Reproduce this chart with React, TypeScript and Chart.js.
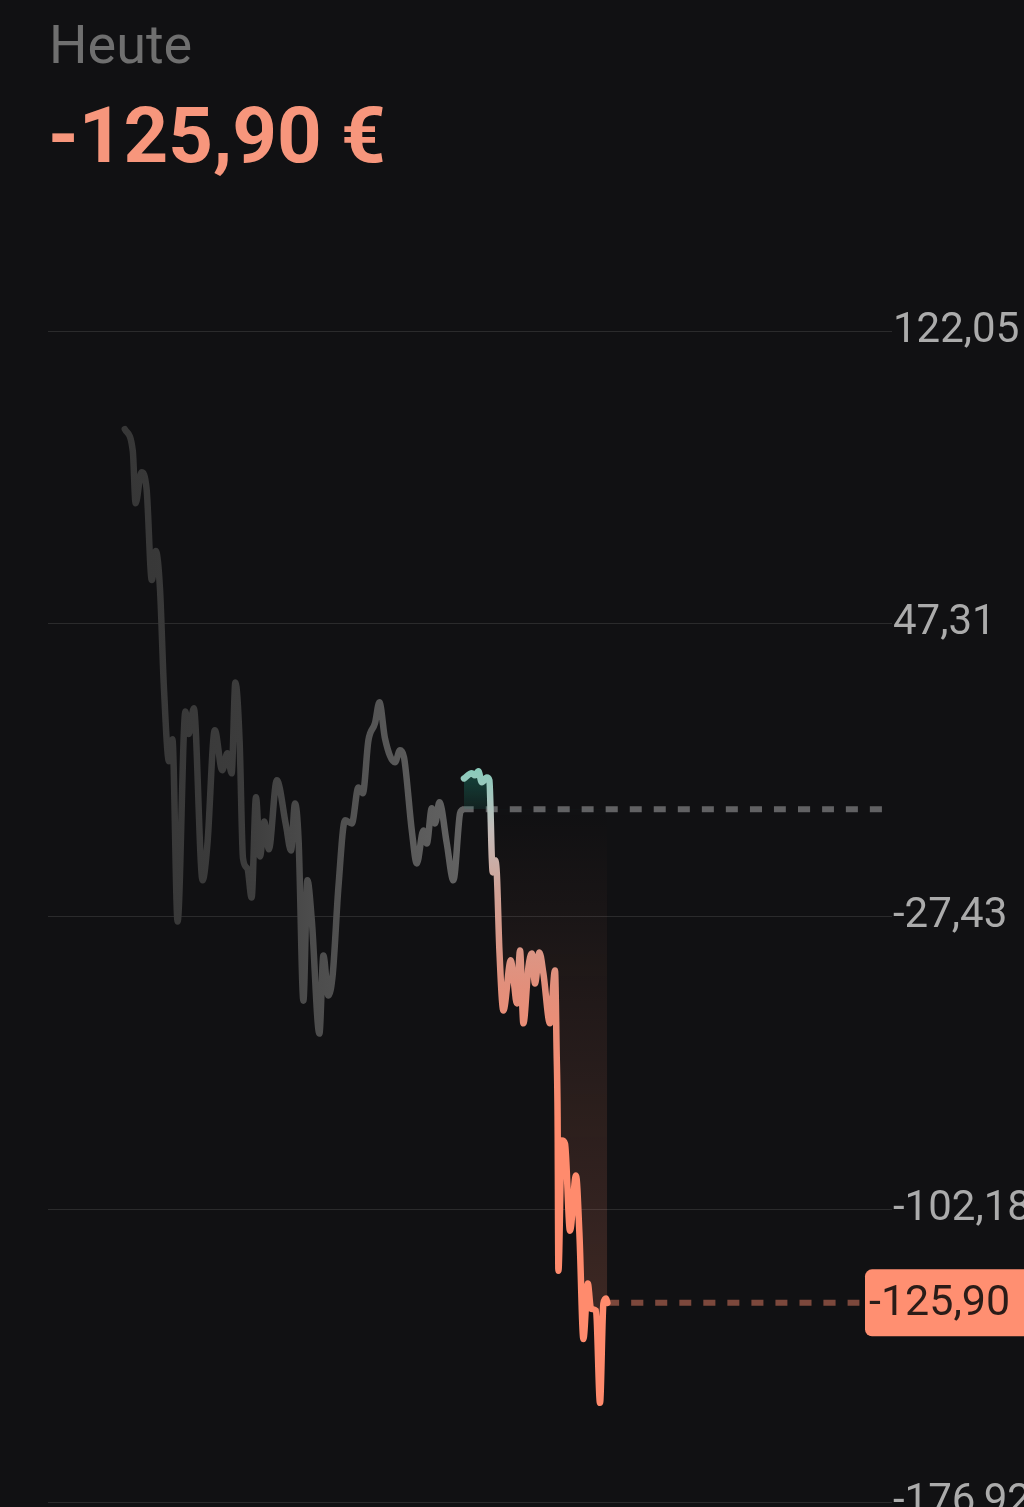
import React, { useEffect, useRef } from 'react';
import { Chart, registerables } from 'chart.js';

Chart.register(...registerables);

// ---- data (time index, profit/loss in €) ----
const prevTimes = [
  38.4, 42.4, 43.8, 46.7, 49.3, 51.9, 53.9, 56.0, 57.9, 60.5, 62.2, 64.8, 68.7, 70.4, 72.9,
  77.3, 79.7, 83.4, 87.1, 89.7, 91.8, 93.7, 95.8, 97.5, 99.7, 101.8, 104.0, 106.0, 108.2,
  110.4, 114.4, 119.0, 121.5, 123.5, 125.3, 127.7, 129.7, 131.9, 135.7, 137.7, 140.2, 142.4,
  145.2, 148.5, 151.9, 155.2, 157.4, 160.2, 163.5, 165.7, 168.5, 173.5, 176.0, 178.0, 181.9,
  184.4, 187.7, 189.4, 191.9, 193.5, 195.7, 199.4, 202.7, 206.0, 206.9,
];
const prevValues = [
  97.0, 91.4, 78.1, 86.0, 81.7, 58.5, 65.9, 56.2, 31.7, 12.3, 17.9, -28.6, 25.0, 19.2, 25.8,
  -18.1, -8.9, 20.2, 10.0, 14.3, 9.2, 32.4, 17.4, -12.5, -15.1, -22.5, 3.1, -12.0, -3.1,
  -10.2, 7.4, -4.1, -10.5, 1.5, -7.9, -48.8, -18.1, -28.3, -57.2, -37.3, -47.5, -41.9,
  -19.9, -2.8, -3.6, 5.6, 4.1, 17.6, 22.0, 27.3, 18.1, 12.0, 15.1, 13.3, -5.4,
  -13.8, -5.4, -8.7, 0.3, -3.6, 1.8, -8.7, -18.1, -1.0, -0.2,
];
const todayTimes = [
  208.0, 211.9, 213.5, 215.2, 216.9, 219.4, 220.7, 221.9, 222.4, 223.5, 224.4, 225.7, 227.7,
  231.4, 233.0, 234.4, 236.0, 237.7, 240.2, 241.9, 243.5, 245.7, 247.7, 251.0, 253.5, 254.3,
  254.8, 255.2, 256.9, 258.5, 261.0, 264.0, 265.7, 267.7, 269.9, 271.5, 274.0, 276.0, 277.7,
  279.0, 279.7,
];
const todayValues = [
  7.9, 9.2, 8.7, 9.7, 6.9, 8.1, 7.4, -12.3, -16.1, -13.0, -16.3, -36.0, -51.3,
  -38.5, -44.4, -49.5, -36.0, -54.6, -40.3, -36.8, -44.4, -36.5, -41.9, -54.6, -41.1, -61.5,
  -78.6, -117.7, -84.5, -85.3, -107.5, -93.4, -108.2, -135.1, -121.0, -127.4, -127.9, -151.4, -126.1,
  -124.8, -125.9,
];
const yTicks = [122.05, 47.31, -27.43, -102.18, -176.92];
const baselineValue = 0;
const currentValue = -125.9;
const xMin = 0;
const xMax = 422;
const titleLabel = 'Heute';

const fmt = (v: number) => v.toFixed(2).replace('.', ',');

const BG = '#111113';
const SALMON = '#FF8F71';

export default function App() {
  const canvasRef = useRef<HTMLCanvasElement | null>(null);

  useEffect(() => {
    const canvas = canvasRef.current;
    if (!canvas) return;

    const toXY = (ts: number[], vs: number[]) => ts.map((t, i) => ({ x: t, y: vs[i] }));

    const labelPlugin = {
      id: 'currentLabel',
      afterDraw(chart: any) {
        const { ctx, chartArea, scales } = chart;
        const y = scales.y.getPixelForValue(currentValue);
        const x = chartArea.right - 27;
        const h = 67;
        ctx.save();
        ctx.fillStyle = SALMON;
        ctx.beginPath();
        (ctx as any).roundRect(x, y - h / 2, 220, h, 7);
        ctx.fill();
        ctx.fillStyle = '#2a1c18';
        ctx.font = '43px Roboto';
        ctx.textBaseline = 'middle';
        ctx.textAlign = 'left';
        ctx.fillText(fmt(currentValue), x + 4, y + 1);
        ctx.restore();
      },
    };

    const lineCommon = {
      pointRadius: 0,
      pointHoverRadius: 0,
      borderJoinStyle: 'round' as const,
      borderCapStyle: 'round' as const,
    };

    const chart = new Chart(canvas, {
      type: 'line',
      data: {
        datasets: [
          {
            label: 'today',
            data: toXY(todayTimes, todayValues),
            borderColor: SALMON,
            borderWidth: 6.5,
            cubicInterpolationMode: 'monotone',
            fill: { target: { value: baselineValue }, above: 'rgba(30,140,120,0.3)', below: 'rgba(255,140,110,0.1)' },
            ...lineCommon,
          },
          {
            label: 'previous',
            data: toXY(prevTimes, prevValues),
            borderColor: '#4a4a4a',
            borderWidth: 6.5,
            cubicInterpolationMode: 'monotone',
            fill: false,
            ...lineCommon,
          },
          {
            label: 'baseline',
            data: [
              { x: prevTimes[prevTimes.length - 1], y: baselineValue },
              { x: xMax, y: baselineValue },
            ],
            borderColor: '#616163',
            borderWidth: 6,
            borderDash: [12, 12],
            fill: false,
            pointRadius: 0,
          },
          {
            label: 'current',
            data: [
              { x: todayTimes[todayTimes.length - 1], y: currentValue },
              { x: xMax, y: currentValue },
            ],
            borderColor: 'rgba(255,140,110,0.45)',
            borderWidth: 6,
            borderDash: [12, 12],
            fill: false,
            pointRadius: 0,
          },
        ],
      },
      options: {
        animation: false,
        responsive: false,
        maintainAspectRatio: false,
        layout: { padding: { top: 331, left: 48, right: 0, bottom: 5 } },
        plugins: { legend: { display: false }, tooltip: { enabled: false } },
        elements: { line: { tension: 0.3 } },
        scales: {
          x: { type: 'linear', min: xMin, max: xMax, display: false },
          y: {
            position: 'right',
            min: yTicks[yTicks.length - 1],
            max: yTicks[0],
            afterBuildTicks: (s: any) => {
              s.ticks = yTicks.map((v) => ({ value: v }));
            },
            afterFit: (s: any) => {
              s.width = 132;
            },
            grid: { color: 'rgba(255,255,255,0.11)', lineWidth: 1, drawTicks: false },
            border: { display: false },
            ticks: {
              color: '#ababab',
              font: { family: 'Roboto', size: 42 },
              padding: 1,
              callback: (v: any) => fmt(Number(v)),
            },
          },
        },
      },
      plugins: [labelPlugin],
    } as any);

    // gradients built from the scales
    const ctx = chart.ctx;
    const yp = (v: number) => chart.scales.y.getPixelForValue(v);
    const xp = (v: number) => chart.scales.x.getPixelForValue(v);

    const lineGrad = ctx.createLinearGradient(0, yp(10), 0, yp(-80));
    const span = 90;
    lineGrad.addColorStop(0, '#8acbbb');
    lineGrad.addColorStop((10 - 2) / span, '#a9c5be');
    lineGrad.addColorStop((10 + 5) / span, '#c4bcb9');
    lineGrad.addColorStop((10 + 20) / span, '#d0a398');
    lineGrad.addColorStop((10 + 45) / span, '#e28f7b');
    lineGrad.addColorStop(1, '#ff8b6d');

    const aboveGrad = ctx.createLinearGradient(0, yp(10), 0, yp(0));
    aboveGrad.addColorStop(0, 'rgba(30,150,125,0.4)');
    aboveGrad.addColorStop(1, 'rgba(30,150,125,0.12)');

    const belowGrad = ctx.createLinearGradient(0, yp(0), 0, yp(currentValue));
    belowGrad.addColorStop(0, 'rgba(255,140,110,0)');
    belowGrad.addColorStop(1, 'rgba(255,140,110,0.18)');

    const greyGrad = ctx.createLinearGradient(xp(prevTimes[0]), 0, xp(prevTimes[prevTimes.length - 1]), 0);
    greyGrad.addColorStop(0, '#373737');
    greyGrad.addColorStop(0.35, '#3c3c3c');
    greyGrad.addColorStop(0.55, '#4c4c4c');
    greyGrad.addColorStop(1, '#626262');

    const ds: any[] = chart.data.datasets as any[];
    ds[0].borderColor = lineGrad;
    ds[0].fill = { target: { value: baselineValue }, above: aboveGrad, below: belowGrad };
    ds[1].borderColor = greyGrad;
    chart.update();

    return () => {
      chart.destroy();
    };
  }, []);

  return (
    <div
      style={{
        position: 'fixed',
        left: 0,
        top: 0,
        width: 1024,
        height: 1507,
        background: BG,
        overflow: 'hidden',
        fontFamily: 'Roboto, sans-serif',
      }}
    >
      <div
        style={{
          position: 'absolute',
          left: 49,
          top: 18,
          fontSize: 54,
          lineHeight: '54px',
          color: '#6f6f6f',
          whiteSpace: 'nowrap',
        }}
      >
        {titleLabel}
      </div>
      <div
        style={{
          position: 'absolute',
          left: 48,
          top: 97,
          fontSize: 78,
          lineHeight: '78px',
          fontWeight: 700,
          color: '#F7967C',
          whiteSpace: 'nowrap',
        }}
      >
        {fmt(currentValue) + ' €'}
      </div>
      <canvas
        ref={canvasRef}
        width={1024}
        height={1529}
        style={{ position: 'absolute', left: 0, top: 0, width: 1024, height: 1529, display: 'block' }}
      />
    </div>
  );
}
